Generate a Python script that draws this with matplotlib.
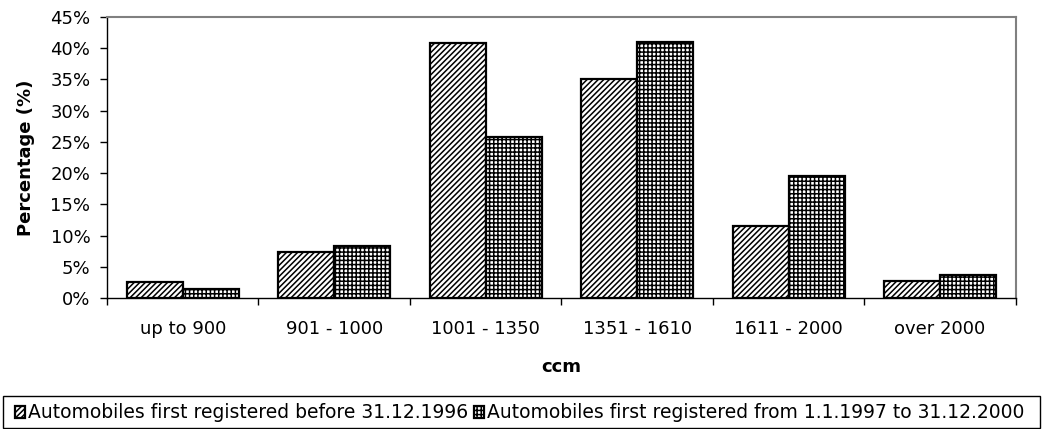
import matplotlib
matplotlib.use("Agg")
import matplotlib.pyplot as plt
import numpy as np
from matplotlib.ticker import FuncFormatter, MultipleLocator, FixedLocator
from matplotlib.patches import Rectangle

plt.rcParams['font.family'] = ['DejaVu Sans']
plt.rcParams['hatch.linewidth'] = 1.1

categories = ["up to 900", "901 - 1000", "1001 - 1350", "1351 - 1610", "1611 - 2000", "over 2000"]
before_1996 = [2.6, 7.4, 40.9, 35.0, 11.6, 2.7]
from_1997_2000 = [1.5, 8.4, 25.8, 41.0, 19.5, 3.7]
series_labels = ["Automobiles first registered before 31.12.1996",
                 "Automobiles first registered from 1.1.1997 to 31.12.2000"]

fig = plt.figure(figsize=(10.44, 4.29), dpi=100)
ax = fig.add_axes([0.1025, 0.3054, 0.8705, 0.655])

x = np.arange(len(categories))
w = 0.37
b1 = ax.bar(x - w/2, before_1996, w, facecolor='white', edgecolor='black', hatch='//////', linewidth=1.6, label=series_labels[0])
b2 = ax.bar(x + w/2, from_1997_2000, w, facecolor='white', edgecolor='black', hatch='++++', linewidth=1.6, label=series_labels[1])

ax.set_xlim(-0.5, len(categories) - 0.5)
ax.set_ylim(0, 45)
ax.yaxis.set_major_locator(MultipleLocator(5))
ax.yaxis.set_major_formatter(FuncFormatter(lambda v, p: f"{int(round(v))}%"))
ax.set_xticks(x)
ax.set_xticklabels(categories, fontsize=13)
ax.xaxis.set_minor_locator(FixedLocator(np.arange(-0.5, len(categories), 1.0)))
ax.tick_params(axis='x', which='major', length=0, pad=16)
ax.tick_params(axis='x', which='minor', length=5, width=1, color='black', direction='out')
ax.tick_params(axis='y', labelsize=13, length=5, width=1, direction='out', pad=7)
for s in ['left', 'bottom']:
    ax.spines[s].set_color('black')
    ax.spines[s].set_linewidth(1)
for s in ['top', 'right']:
    ax.spines[s].set_color('#808080')
    ax.spines[s].set_linewidth(1.5)

ax.set_ylabel("Percentage (%)", fontsize=13, fontweight='bold')
ax.yaxis.set_label_coords((35 - 107) / 909, 0.5)
ax.set_xlabel("ccm", fontsize=13, fontweight='bold')
ax.xaxis.set_label_coords(0.5, (298 - 358) / 281)

fig.patches.append(Rectangle((3/1044, 1/429), 1037/1044, 32/429, transform=fig.transFigure,
                             facecolor='none', edgecolor='black', linewidth=1))
leg = fig.legend(handles=[b1, b2], labels=series_labels, loc='center left',
                 bbox_to_anchor=(15/1044, 1 - 413/429), ncol=2,
                 fontsize=13.5, frameon=False,
                 handlelength=0.55, handleheight=0.55, handletextpad=0.15, borderaxespad=0,
                 columnspacing=0.3, borderpad=0)

fig.savefig("out.png", dpi=100)
